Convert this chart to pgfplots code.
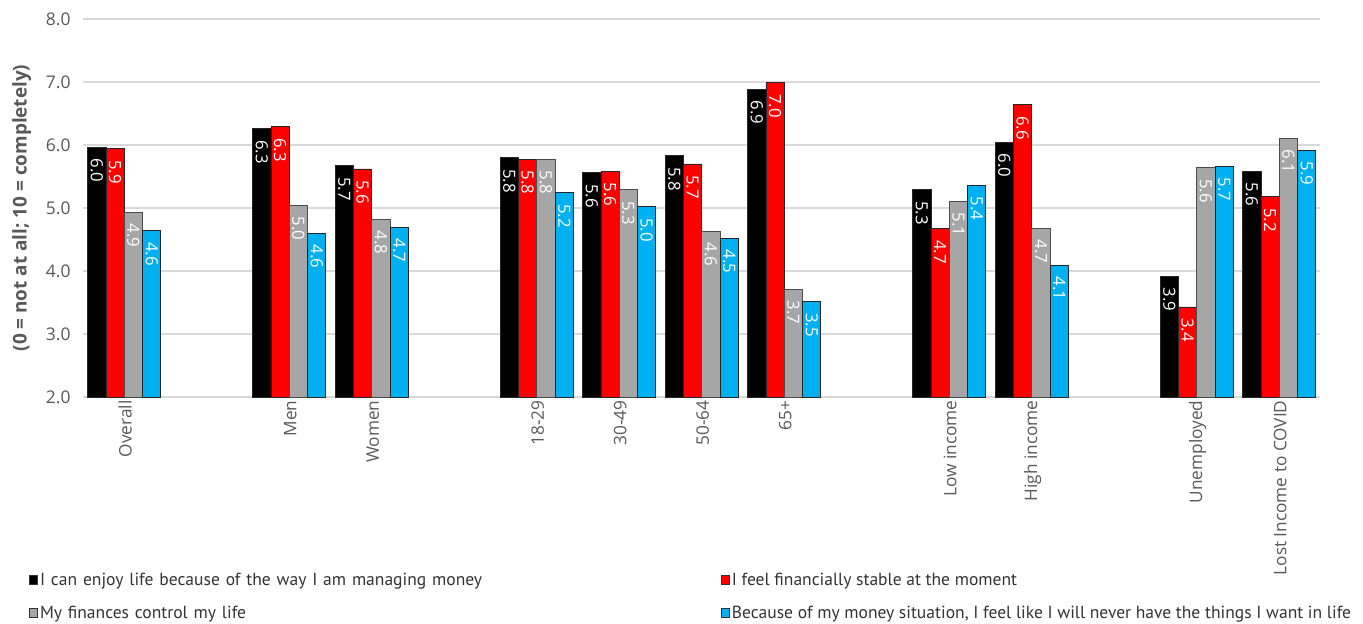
\documentclass[border=0pt]{standalone}
\usepackage{pgfplots}
\pgfplotsset{compat=1.18}
\usepackage{fontspec}
\setmainfont{Open Sans}
\newfontfamily\legfont{PT Sans}
\definecolor{cBlack}{HTML}{000000}
\definecolor{cRed}{HTML}{FF0000}
\definecolor{cGrey}{HTML}{A6A6A6}
\definecolor{cBlue}{HTML}{00B0F0}
\definecolor{txt}{HTML}{595959}
\definecolor{gridc}{HTML}{D9D9D9}
\begin{document}
\begin{tikzpicture}
\begin{axis}[
  scale only axis, width=1237.5bp, height=378bp,
  ybar=0pt, bar width=18.3bp,
  xmin=-0.5, xmax=14.5, ymin=2, ymax=8,
  ytick={2,3,...,8},
  xtick={0,2,3,5,6,7,8,10,11,13,14},
  xticklabels={Overall,Men,Women,18-29,30-49,50-64,65+,Low income,High income,Unemployed,Lost Income to COVID},
  /pgf/number format/assume math mode=true,
  xticklabel style={rotate=90, anchor=east, font=\fontsize{17.3}{20}\selectfont, text=txt, yshift=-1bp},
  yticklabel style={font=\fontsize{17.5}{20}\selectfont, text=txt, xshift=-9bp, /pgf/number format/.cd, fixed, fixed zerofill, precision=1},
  major tick length=0pt,
  axis line style={draw=none},
  ymajorgrids, grid style={gridc, line width=1.5bp},
  ylabel={(0 = not at all; 10 = completely)},
  ylabel style={at={(axis description cs:-0.0495,0.5)}, anchor=center, font=\bfseries\fontsize{19}{22}\selectfont, text=txt},
  every axis plot/.append style={draw=black!85, line width=0.8bp,
     legend image code/.code={\draw[##1, draw=black!80, line width=0.8bp] (0bp,-4.5bp) rectangle (8bp,4.5bp);}},
  nodes near coords={\pgfmathprintnumber[fixed,fixed zerofill,precision=1]{\pgfplotspointmeta}},
  nodes near coords style={yshift=-11bp, rotate=-90, anchor=west, font=\fontsize{16.8}{19}\selectfont, text=white, inner xsep=0bp, inner ysep=0bp},
  legend columns=2,
  legend cell align=left,
  legend style={draw=none, fill=none, at={(axis description cs:-0.046,-0.455)}, anchor=north west,
     font=\legfont\fontsize{17.6}{20}\selectfont, text=black!80, row sep=15bp,
     /tikz/every even column/.append style={column sep=0bp}},
]
\addplot[fill=cBlack] coordinates {(0,5.96) (2,6.26) (3,5.67) (5,5.80) (6,5.56) (7,5.83) (8,6.88) (10,5.29) (11,6.04) (13,3.92) (14,5.58)};
\addlegendentry[text width=679bp]{I can enjoy life because of the way I am managing money}
\addplot[fill=cRed] coordinates {(0,5.94) (2,6.29) (3,5.62) (5,5.77) (6,5.58) (7,5.70) (8,6.99) (10,4.67) (11,6.64) (13,3.43) (14,5.18)};
\addlegendentry{I feel financially stable at the moment}
\addplot[fill=cGrey, draw=black!70] coordinates {(0,4.93) (2,5.04) (3,4.82) (5,5.77) (6,5.29) (7,4.63) (8,3.71) (10,5.11) (11,4.68) (13,5.64) (14,6.11)};
\addlegendentry[text width=679bp]{My finances control my life}
\addplot[fill=cBlue] coordinates {(0,4.64) (2,4.60) (3,4.69) (5,5.24) (6,5.02) (7,4.52) (8,3.51) (10,5.36) (11,4.09) (13,5.66) (14,5.92)};
\addlegendentry{Because of my money situation, I feel like I will never have the things I want in life}
\end{axis}
\pgfresetboundingbox
\path[use as bounding box] (-83bp,-227bp) rectangle (1280bp,397bp);
\end{tikzpicture}
\end{document}
